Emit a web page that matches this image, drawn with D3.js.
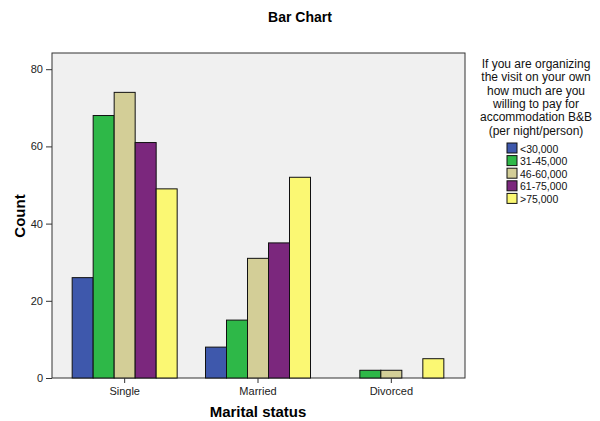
<!DOCTYPE html>
<meta charset="utf-8">
<script src="https://d3js.org/d3.v7.min.js"></script>
<style>
  body { margin: 0; background: #fff; }
  text { font-family: Arial, "Liberation Sans", sans-serif; }
</style>
<div id="chart"></div>
<script>
// categories on the x axis and the price groups in the legend
const statuses = ["Single", "Married", "Divorced"];
const priceGroups = ["<30,000", "31-45,000", "46-60,000", "61-75,000", ">75,000"];
const groupColors = ["#3e58ac", "#2eb848", "#d3ce97", "#7b277d", "#fbf873"];

// counts per price group, in the order of statuses
const under30 = [26, 8, 0];
const from31to45 = [68, 15, 2];
const from46to60 = [74, 31, 2];
const from61to75 = [61, 35, 0];
const over75 = [49, 52, 5];

const yTicks = [0, 20, 40, 60, 80];
const legendTitle = ["If you are organizing", "the visit on your own", "how much are you",
                     "willing to pay for", "accommodation B&B", "(per night/person)"];

const series = [under30, from31to45, from46to60, from61to75, over75];

const W = 600, H = 421;
const plot = {left: 52, top: 53, right: 465, bottom: 378};

const svg = d3.select("#chart").append("svg")
    .attr("width", W).attr("height", H);

// plot background and frame
svg.append("rect")
    .attr("x", plot.left).attr("y", plot.top)
    .attr("width", plot.right - plot.left).attr("height", plot.bottom - plot.top)
    .attr("fill", "#f0f0f0").attr("stroke", "#333").attr("stroke-width", 1);

const x0 = d3.scaleBand().domain(statuses).range([58, 458]);
const x1 = d3.scaleBand().domain(d3.range(priceGroups.length)).range([-52.5, 52.5]);
const y = d3.scaleLinear().domain([0, 84]).range([plot.bottom, plot.bottom - 84 * 3.86]);

// bars
const rows = [];
series.forEach((vals, gi) => vals.forEach((v, si) => {
    if (v > 0) rows.push({status: statuses[si], g: gi, v: v});
}));

svg.append("g").selectAll("rect")
  .data(rows)
  .join("rect")
    .attr("x", d => x0(d.status) + x0.bandwidth() / 2 + x1(d.g))
    .attr("y", d => y(d.v))
    .attr("width", x1.bandwidth())
    .attr("height", d => y(0) - y(d.v))
    .attr("fill", d => groupColors[d.g])
    .attr("stroke", "#111").attr("stroke-width", 1);

// y axis
const yAxis = svg.append("g")
    .attr("transform", `translate(${plot.left},0)`)
    .call(d3.axisLeft(y).tickValues(yTicks).tickSize(6).tickPadding(3));
yAxis.select(".domain").remove();
yAxis.selectAll("text").style("font-size", "11px").attr("fill", "#222");
yAxis.selectAll("line").attr("stroke", "#333");

// x axis
const xAxis = svg.append("g")
    .attr("transform", `translate(0,${plot.bottom})`)
    .call(d3.axisBottom(x0).tickSize(5).tickPadding(4));
xAxis.select(".domain").remove();
xAxis.selectAll("text").style("font-size", "11px").attr("fill", "#222");
xAxis.selectAll("line").attr("stroke", "#333");

// titles
svg.append("text").attr("x", 300).attr("y", 22).attr("text-anchor", "middle")
    .style("font-size", "14px").style("font-weight", "bold").text("Bar Chart");
svg.append("text").attr("x", 258).attr("y", 417).attr("text-anchor", "middle")
    .style("font-size", "15px").style("font-weight", "bold").text("Marital status");
svg.append("text").attr("transform", "translate(25,216) rotate(-90)").attr("text-anchor", "middle")
    .style("font-size", "15px").style("font-weight", "bold").text("Count");

// legend
const legend = svg.append("g");
legend.selectAll("text.title")
  .data(legendTitle)
  .join("text")
    .attr("class", "title")
    .attr("x", 536).attr("y", (d, i) => 68 + i * 13.3)
    .attr("text-anchor", "middle")
    .style("font-size", "12px").attr("fill", "#111")
    .text(d => d);

const items = legend.selectAll("g.item")
  .data(priceGroups)
  .join("g")
    .attr("class", "item")
    .attr("transform", (d, i) => `translate(507,${143 + i * 12.6})`);
items.append("rect").attr("width", 10).attr("height", 10)
    .attr("fill", (d, i) => groupColors[i]).attr("stroke", "#111");
items.append("text").attr("x", 13).attr("y", 9.5)
    .style("font-size", "10.5px").attr("fill", "#111").text(d => d);
</script>
